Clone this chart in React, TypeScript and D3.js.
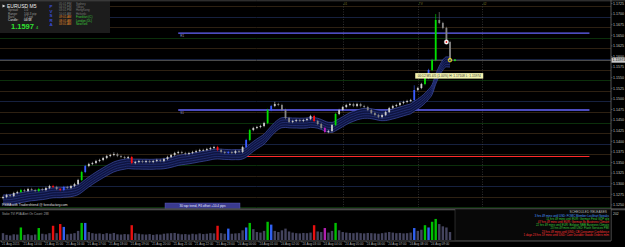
import React from "react";
import * as d3 from "d3";

// EURUSD M5, 21-24 Aug 2015 in 10 minute steps
const firstOpen = 1.1272;
const closes = [
  1.12745, 1.12792, 1.12769, 1.1284, 1.12863, 1.1291, 1.12887, 1.12934, 1.1291, 1.12887,
  1.12934, 1.1291, 1.12958, 1.13005, 1.12981, 1.12934, 1.1291, 1.12981, 1.12958, 1.13005,
  1.13052, 1.13146, 1.13335, 1.13476, 1.13524, 1.13547, 1.13594, 1.13618, 1.13665, 1.13712,
  1.13736, 1.13759, 1.13712, 1.13689, 1.13665, 1.13689, 1.13547, 1.13571, 1.13594, 1.13571,
  1.13594, 1.13571, 1.13594, 1.13618, 1.13594, 1.13641, 1.13689, 1.13736, 1.13783, 1.13807,
  1.13783, 1.13759, 1.13783, 1.13807, 1.1383, 1.13854, 1.13854, 1.13877, 1.13901, 1.13925,
  1.13854, 1.13807, 1.13783, 1.13807, 1.13783, 1.1383, 1.13807, 1.13925, 1.1409, 1.14325,
  1.14373, 1.14396, 1.1442, 1.14491, 1.14797, 1.14892, 1.14939, 1.14915, 1.14797, 1.14608,
  1.14514, 1.14538, 1.14561, 1.14538, 1.14561, 1.14585, 1.14656, 1.14538, 1.14467, 1.14373,
  1.14278, 1.14302, 1.14443, 1.14703, 1.14797, 1.14868, 1.14915, 1.14939, 1.14892, 1.14939,
  1.14892, 1.14868, 1.14797, 1.14726, 1.14679, 1.14632, 1.14679, 1.1475, 1.14844, 1.14892,
  1.14915, 1.14962, 1.14986, 1.15009, 1.15033, 1.15269, 1.15316, 1.1541, 1.15552, 1.15741,
  1.15976, 1.1692, 1.1685, 1.16731, 1.16401, 1.15974,
];
const volumes = [
  60, 45, 40, 50, 48, 110, 45, 50, 42, 48,
  105, 55, 50, 60, 125, 60, 140, 115, 50, 55,
  60, 80, 150, 150, 70, 60, 55, 58, 52, 60,
  55, 62, 50, 48, 52, 50, 130, 60, 55, 50,
  48, 52, 45, 50, 48, 55, 58, 60, 62, 55,
  50, 52, 48, 55, 50, 58, 52, 55, 60, 58,
  125, 60, 55, 100, 55, 58, 60, 85, 110, 150,
  95, 70, 65, 80, 160, 135, 80, 70, 85, 100,
  75, 65, 60, 58, 62, 60, 65, 130, 75, 70,
  105, 65, 80, 150, 85, 70, 65, 62, 60, 65,
  60, 58, 62, 60, 58, 55, 60, 65, 70, 65,
  60, 62, 58, 60, 65, 105, 80, 90, 130, 110,
  160, 185, 140, 120, 110, 70,
];
const wickBars = [31, 76, 115, 121, 122];
const wickHighs = [1.138, 1.1499, 1.1538, 1.1706, 1.17108];

const priceTicks = [
  1.1725, 1.17, 1.1675, 1.165, 1.1625, 1.16, 1.1575, 1.155, 1.1525, 1.15,
  1.1475, 1.145, 1.1425, 1.14, 1.1375, 1.135, 1.1325, 1.13, 1.1275, 1.125,
];
const lastPrice = 1.15974;

const timeLabels = [
  "21 Aug 2015", "21 Aug 14:00", "21 Aug 15:00", "21 Aug 16:00", "21 Aug 17:00",
  "21 Aug 18:00", "21 Aug 19:00", "21 Aug 20:00", "21 Aug 21:00", "21 Aug 22:00",
  "21 Aug 23:00", "24 Aug 00:00", "24 Aug 01:00", "24 Aug 02:00", "24 Aug 03:00",
  "24 Aug 04:00", "24 Aug 05:00", "24 Aug 06:00", "24 Aug 07:00", "24 Aug 08:00",
  "24 Aug 09:00",
];
const timeLabelBars = [0, 6, 12, 18, 24, 30, 36, 42, 48, 54, 60, 66, 72, 78, 84, 90, 96, 102, 108, 114, 120];

const pivotNames = ["R1", "S1", ""];
const pivotPrices = [1.1661, 1.14797, 1.13712];
const pivotStartBars = [49, 49, 54];

const separatorBars = [95, 116, 134];
const separatorTags = ["01", "TV", "02"];

const infoLabels = ["Spread:", "Range:", "Bars:", "Candle:"];
const infoValues = ["1.0", "100.3 pip", "7.2 pip", "04:58"];
const sessionTimes = ["05:01 PM", "04:01 PM", "03:01 PM", "10:01 AM", "09:01 AM", "08:01 AM", "03:01 AM"];
const sessionCities = ["Sydney", "Tokyo", "HongKong", "Helsinki", "Frankfurt (C)", "London (DL)", "NewYork"];
const sessionOpen = [false, false, false, false, true, true, true];

const releaseTexts = [
  "3 hrs 49 mins until USD: FOMC Member Lockhart Speaks",
  "11 hrs 49 mins until EUR: German Final GDP q/q",
  "47 hrs 49 mins until EUR: German Ifo Business Climate",
  "22 hrs 49 mins until EUR: Belgian NBB Business Climate",
  "23 hrs 49 mins until USD: Flash Services PMI",
  "23 hrs 49 mins until USD: CB Consumer Confidence",
  "1 days 23 hrs 19 mins until USD: Core Durable Goods Orders m/m",
];
const releaseImpact = ["speech", "low", "high", "low", "low", "high", "high"];

const FONT = "'Liberation Sans', Arial, sans-serif";

export default function App() {
  const W = 625;
  const H = 247;
  const plotRight = 611;

  const x = d3.scaleLinear().domain([0, 125]).range([3, 450]);
  const y = d3.scaleLinear().domain([1.125, 1.175]).range([207.4, -4.6]);
  const v = d3.scaleLinear().domain([0, 202]).range([240, 217]);

  const opens = closes.map((c, i) => (i ? closes[i - 1] : firstOpen));

  // PVSRA style colouring from volume vs. the previous 10 bars
  const kind = volumes.map((vol, i) => {
    if (i === 0) return "n";
    const prev = volumes.slice(Math.max(0, i - 10), i);
    const r = vol / (d3.mean(prev) || vol);
    const bull = closes[i] >= opens[i];
    if (r >= 1.8) return bull ? "cb" : "cs";
    if (r >= 1.4) return bull ? "ab" : "as";
    return bull ? "nb" : "ns";
  });
  const candleColor: Record<string, string> = {
    cb: "#00e000", cs: "#ff1010", ab: "#3a5cff", as: "#c020c0", nb: "#c8c8c8", ns: "#858585", n: "#c8c8c8",
  };
  const volColor: Record<string, string> = {
    cb: "#00c000", cs: "#e81010", ab: "#3060f0", as: "#b020b0", nb: "#44445e", ns: "#44445e", n: "#44445e",
  };

  // smoothed ribbon
  const k = 2 / 13;
  const ema: number[] = [];
  closes.forEach((c, i) => ema.push(i ? ema[i - 1] + k * (c - ema[i - 1]) : c));
  const offsets = [-2, 0.5, 3, 5.5, 8];
  const ribbonLine = (o: number) =>
    d3.line<number>().x((_, i) => x(i)).y((d) => y(d) + o).curve(d3.curveMonotoneX)(ema) || "";
  const ribbonArea =
    d3.area<number>().x((_, i) => x(i)).y0((d) => y(d) + offsets[0]).y1((d) => y(d) + offsets[4]).curve(d3.curveMonotoneX)(ema) || "";

  const levelColor = (p: number) => {
    const pips = Math.round(p * 10000) % 100;
    if (pips === 0) return "#16213f";
    if (pips === 50) return "#0b300b";
    return "#2e2112";
  };
  const releaseColor: Record<string, string> = { speech: "#4a9cff", low: "#3ccc3c", high: "#ff3434" };

  const lastBar = closes.length - 1;
  const snap = (n: number) => Math.round(n) + 0.5;

  return (
    <div style={{ position: "fixed", left: 0, top: 0, width: W, height: H, background: "#000" }}>
      <svg width={W} height={H} style={{ display: "block", fontFamily: FONT }}>
        <rect width={W} height={H} fill="#000" />

        {/* round number levels */}
        {priceTicks.map((p) => (
          <line key={p} x1={0} x2={plotRight} y1={snap(y(p))} y2={snap(y(p))} stroke={levelColor(p)} strokeWidth={1} />
        ))}

        {/* bid line */}
        <line x1={0} x2={plotRight} y1={snap(y(lastPrice))} y2={snap(y(lastPrice))} stroke="#4a4a4a" strokeWidth={1} />

        {/* session separators */}
        {separatorBars.map((b, i) => (
          <g key={b}>
            <line x1={snap(x(b))} x2={snap(x(b))} y1={4} y2={207} stroke="#4a4a4a" strokeWidth={0.6} strokeDasharray="1,1.5" />
            <text x={x(b) + 1} y={5} fontSize={3} fill="#7a7a28">{separatorTags[i]}</text>
          </g>
        ))}

        {/* pivot lines */}
        {pivotPrices.map((p, i) => (
          <g key={p}>
            <line
              x1={x(pivotStartBars[i])}
              x2={x(164)}
              y1={i < 2 ? y(p) : snap(y(p))}
              y2={i < 2 ? y(p) : snap(y(p))}
              stroke={i < 2 ? "#6666ff" : "#ff2a2a"}
              strokeWidth={i < 2 ? 1.4 : 1}
            />
            {pivotNames[i] && (
              <text x={x(pivotStartBars[i]) + 2} y={y(p) + 3.8} fontSize={3} fill="#9a9acc">{pivotNames[i]}</text>
            )}
          </g>
        ))}

        {/* ribbon */}
        <path d={ribbonArea} fill="#0e1440" />
        {offsets.map((o, i) => (
          <path
            key={o}
            d={ribbonLine(o)}
            fill="none"
            stroke={i === 0 || i === offsets.length - 1 ? "#4a5ac0" : "#2c3a8a"}
            strokeWidth={0.6}
          />
        ))}

        {/* candles */}
        {closes.map((c, i) => {
          const o = opens[i];
          const wi = wickBars.indexOf(i);
          const hi = wi >= 0 ? wickHighs[wi] : Math.max(o, c);
          const lo = Math.min(o, c);
          const top = y(Math.max(o, c));
          const bot = y(lo);
          const col = candleColor[kind[i]];
          return (
            <g key={i}>
              <line x1={x(i)} x2={x(i)} y1={y(hi) - (wi >= 0 ? 0 : 1.2)} y2={bot + 1.2} stroke={col} strokeWidth={0.6} />
              <rect x={x(i) - 0.9} y={top} width={1.8} height={Math.max(0.8, bot - top)} fill={col} />
            </g>
          );
        })}

        {/* markers near the last bars */}
        <circle cx={x(lastBar - 1)} cy={y(closes[lastBar - 1])} r={2.2} fill="#fff" stroke="#ddd" strokeWidth={0.4} />
        <circle cx={x(lastBar - 1)} cy={y(closes[lastBar - 1])} r={0.9} fill="#e02020" />
        <circle cx={x(lastBar)} cy={y(lastPrice)} r={1.8} fill="none" stroke="#f0e020" strokeWidth={1} />
        <rect x={x(lastBar) + 4} y={y(lastPrice) - 0.8} width={1.8} height={1.8} fill="#20e020" />

        {/* info label under the spike */}
        <g transform={`translate(${x(115) + 1},${y(lastPrice) + 13})`}>
          <rect width={68} height={5.5} fill="#f2f2ae" />
          <text x={34} y={4.1} fontSize={3.2} fill="#333" textAnchor="middle">
            00:12  M5  4/5 (1.00%)  H: 1.17108  L: 1.15974
          </text>
        </g>

        {/* top-left info box */}
        <rect x={0} y={0} width={110} height={33} fill="#1c1c1c" />
        <line x1={0} x2={W} y1={0.8} y2={0.8} stroke="#505050" strokeWidth={0.8} />
        <path d="M2.5,4.5 L5.5,6 L2.5,7.5 Z" fill="#ddd" />
        <text x={7} y={7.5} fontSize={5} fill="#f0f0f0">EURUSD  M5</text>
        {infoLabels.map((l, i) => (
          <g key={l}>
            <text x={8} y={11.2 + i * 3.4} fontSize={3} fill={i === 3 ? "#ddd" : "#9a9a9a"}>{l}</text>
            <text x={24} y={11.2 + i * 3.4} fontSize={3} fill={i === 3 ? "#fff" : "#9a9a9a"}>{infoValues[i]}</text>
          </g>
        ))}
        <text x={11} y={28.5} fontSize={7.5} fill="#30e030" fontWeight="bold">1.1597</text>
        <text x={36} y={28.5} fontSize={4} fill="#30e030">4</text>
        {"PVSRA".split("").map((ch, i) => (
          <text key={i} x={51} y={8 + i * 4.6} fontSize={4.4} fill="#3a4cd8" textAnchor="middle" fontWeight="bold">{ch}</text>
        ))}
        {sessionTimes.map((t, i) => (
          <g key={i}>
            <text x={59} y={4.6 + i * 3.4} fontSize={2.9} fill={sessionOpen[i] ? "#e08a2a" : "#7a7a7a"}>{t}</text>
            <text x={76} y={4.6 + i * 3.4} fontSize={2.9} fill={sessionOpen[i] ? "#3ccc3c" : "#7a7a7a"}>{sessionCities[i]}</text>
          </g>
        ))}

        {/* bottom notes of the price window */}
        <text x={2} y={206} fontSize={3.3} fill="#e0e0e0">PSMA with Tradersfriend @ forexfactory.com</text>
        <rect x={165} y={203} width={75} height={6} fill="#3a3a8e" stroke="#6464c4" strokeWidth={0.4} />
        <text x={202.5} y={207.2} fontSize={3.1} fill="#e8e8ff" textAnchor="middle">30 sqz trend, P4 offset +10.4 pips</text>

        {/* panel separator */}
        <rect x={0} y={208.3} width={W} height={2} fill="#4a4a4a" />

        {/* volume panel */}
        <text x={2} y={214.5} fontSize={3} fill="#a0a0a0">Stoke TVI PVA      Alert On      Count: 288</text>
        {volumes.map((vol, i) => (
          <rect key={i} x={x(i) - 1.2} y={v(vol)} width={2.4} height={v(0) - v(vol)} fill={volColor[kind[i]]} />
        ))}

        {/* axes */}
        <line x1={plotRight} x2={plotRight} y1={0} y2={241} stroke="#7a7a7a" strokeWidth={0.7} />
        <line x1={0} x2={plotRight} y1={241} y2={241} stroke="#7a7a7a" strokeWidth={0.7} />
        {priceTicks.map((p) => (
          <g key={p}>
            <line x1={plotRight} x2={plotRight + 1.5} y1={y(p) - 2.5} y2={y(p) - 2.5} stroke="#7a7a7a" strokeWidth={0.5} />
            <text x={plotRight + 2} y={y(p) - 1.2} fontSize={3.6} fill="#c4c4c4">{p.toFixed(4)}</text>
          </g>
        ))}
        <rect x={plotRight + 0.5} y={y(lastPrice) - 2.6} width={13.5} height={5.2} fill="#c8c8c8" />
        <text x={plotRight + 1.5} y={y(lastPrice) + 1.3} fontSize={3.6} fill="#111">{lastPrice.toFixed(5)}</text>
        <text x={plotRight + 2} y={214.5} fontSize={3.4} fill="#c4c4c4">202</text>
        {timeLabelBars.map((b, i) => (
          <g key={b}>
            <line x1={x(b) - 1.5} x2={x(b) - 1.5} y1={241} y2={242.5} stroke="#7a7a7a" strokeWidth={0.5} />
            <text x={x(b) - 1} y={245} fontSize={3.1} fill="#b0b0b0">{timeLabels[i]}</text>
          </g>
        ))}

        {/* scheduled releases table */}
        <rect x={455} y={209} width={156} height={31.5} fill="#080808" stroke="#4c4c4c" strokeWidth={0.5} />
        <text x={607} y={213} fontSize={3.2} fill="#b8b8b8" textAnchor="end">SCHEDULED RELEASES</text>
        {releaseTexts.map((t, i) => (
          <text key={i} x={609} y={216.6 + i * 3.2} fontSize={2.9} fill={releaseColor[releaseImpact[i]]} textAnchor="end">
            {t}
          </text>
        ))}
      </svg>
    </div>
  );
}
